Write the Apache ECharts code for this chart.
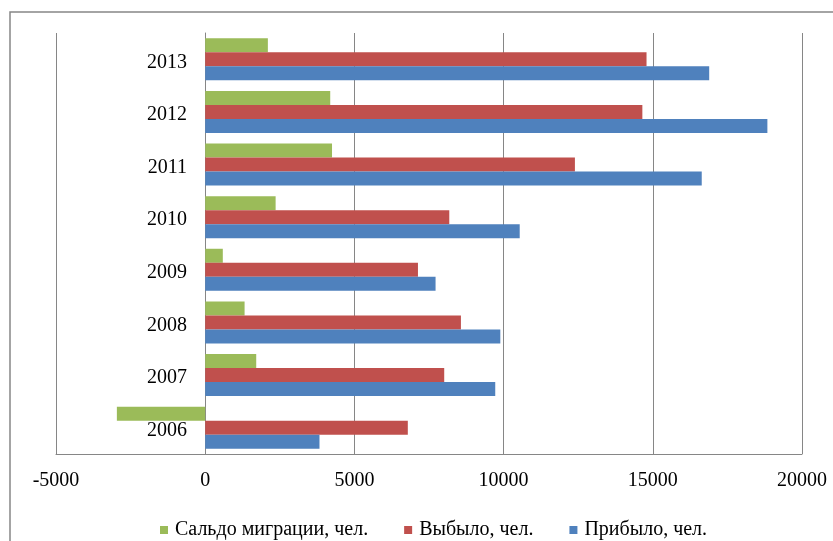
<!DOCTYPE html>
<html>
<head>
<meta charset="utf-8">
<script src="https://cdn.jsdelivr.net/npm/echarts@6/dist/echarts.min.js"></script>
<style>
  html, body { margin: 0; padding: 0; background: #fff; }
  #chart { width: 833px; height: 541px; }
</style>
</head>
<body>
<div id="chart"></div>
<script>
// Migration by year, persons
const years = ['2006', '2007', '2008', '2009', '2010', '2011', '2012', '2013'];
const arrived = [3830, 9720, 9890, 7720, 10540, 16640, 18840, 16890];   // Прибыло
const departed = [6790, 8010, 8570, 7130, 8180, 12390, 14650, 14790];   // Выбыло
const netMigration = [-2960, 1710, 1320, 590, 2360, 4250, 4190, 2100];  // Сальдо миграции
const xTicks = { min: -5000, max: 20000, step: 5000 };

const serif = '"Liberation Serif", "DejaVu Serif", serif';
const gridGray = '#868686';
const gridLeft = 56;

const chart = echarts.init(document.getElementById('chart'), null, { renderer: 'canvas' });

chart.setOption({
  animation: false,
  backgroundColor: '#fff',
  graphic: [{
    type: 'rect',
    shape: { x: 10, y: 12, width: 840, height: 560 },
    style: { fill: 'none', stroke: gridGray, lineWidth: 1.5 },
    silent: true,
    z: -1
  }],
  grid: { left: gridLeft, right: 31, top: 33, bottom: 87, containLabel: false },
  legend: {
    top: 515,
    left: 155,
    icon: 'rect',
    itemWidth: 8,
    itemHeight: 8,
    itemGap: 36,
    textStyle: { fontFamily: serif, fontSize: 20, color: '#000', padding: [0, 0, 0, 2] },
    data: ['Сальдо миграции, чел.', 'Выбыло, чел.', 'Прибыло, чел.']
  },
  xAxis: {
    type: 'value',
    min: xTicks.min,
    max: xTicks.max,
    interval: xTicks.step,
    axisLine: { show: true, lineStyle: { color: gridGray, width: 1 } },
    axisTick: { show: false },
    splitLine: { show: true, lineStyle: { color: gridGray, width: 1 } },
    axisLabel: {
      fontFamily: serif, fontSize: 20, color: '#000', margin: 17,
      formatter: (v) => String(v)
    }
  },
  yAxis: {
    type: 'category',
    data: years,
    axisLine: { show: true, onZero: true, lineStyle: { color: gridGray, width: 1 } },
    axisTick: { show: false },
    // year labels sit just left of the zero line, nudged slightly down
    axisLabel: {
      margin: -131,
      formatter: (v) => '{yr|' + v + '}',
      rich: {
        yr: { fontFamily: serif, fontSize: 20, color: '#000', padding: [6, 0, 0, 0] }
      }
    }
  },
  series: [
    {
      name: 'Сальдо миграции, чел.',
      type: 'bar',
      data: netMigration,
      itemStyle: { color: '#9BBB59' },
      barGap: '0%',
      barCategoryGap: '20%'
    },
    {
      name: 'Выбыло, чел.',
      type: 'bar',
      data: departed,
      itemStyle: { color: '#C0504D' }
    },
    {
      name: 'Прибыло, чел.',
      type: 'bar',
      data: arrived,
      itemStyle: { color: '#4F81BD' }
    }
  ]
});
</script>
</body>
</html>
